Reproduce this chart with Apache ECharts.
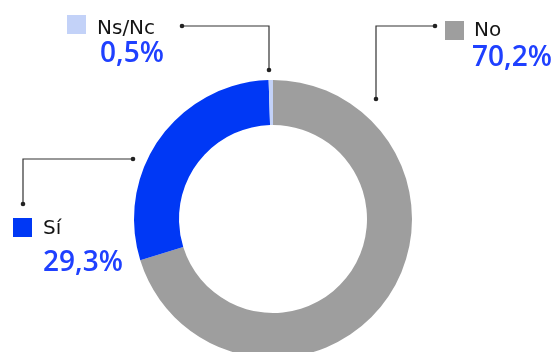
<!DOCTYPE html>
<html>
<head>
<meta charset="utf-8">
<script src="https://cdn.jsdelivr.net/npm/echarts@6/dist/echarts.min.js"></script>
<style>
  html, body { margin: 0; padding: 0; background: #ffffff; }
  #chart { width: 557px; height: 352px; }
</style>
</head>
<body>
<div id="chart"></div>
<script>
// Survey answers (percent of respondents), clockwise from 12 o'clock
const categories = ['No', 'Sí', 'Ns/Nc'];
const shares = [70.2, 29.3, 0.5];
const sliceColors = ['#9e9e9e', '#0038f5', '#c3d2f8'];

// Placement of each callout: legend square, name, percentage and elbow leader line
const callouts = {
  'No':    { sq: [445, 21], name: [474, 31], pct: [472, 58], line: [[376, 99], [376, 26], [435, 26]] },
  'Sí':    { sq: [13, 218], name: [43, 229], pct: [43, 263], line: [[133, 159], [23, 159], [23, 204]] },
  'Ns/Nc': { sq: [67, 15],  name: [97, 29],  pct: [100, 54], line: [[269, 70], [269, 26], [182, 26]] }
};

const fmt = v => v.toFixed(1).replace('.', ',') + '%';

const graphics = [];
categories.forEach((name, i) => {
  const c = callouts[name];
  graphics.push({
    type: 'polyline', silent: true,
    shape: { points: c.line },
    style: { stroke: '#333333', lineWidth: 1.2, fill: null }
  });
  [c.line[0], c.line[c.line.length - 1]].forEach(p => graphics.push({
    type: 'circle', silent: true,
    shape: { cx: p[0], cy: p[1], r: 2.3 },
    style: { fill: '#222222' }
  }));
  graphics.push({
    type: 'rect', silent: true,
    shape: { x: c.sq[0], y: c.sq[1], width: 19, height: 19 },
    style: { fill: sliceColors[i] }
  });
  graphics.push({
    type: 'text', silent: true,
    x: c.name[0], y: c.name[1],
    style: {
      text: name, fill: '#141414',
      font: '20px "DejaVu Sans"',
      align: 'left', verticalAlign: 'middle'
    }
  });
  graphics.push({
    type: 'text', silent: true,
    x: c.pct[0], y: c.pct[1],
    style: {
      text: fmt(shares[i]), fill: '#1f40ff',
      font: '600 28px "Open Sans"',
      align: 'left', verticalAlign: 'middle'
    }
  });
});

const chart = echarts.init(document.getElementById('chart'), null, { renderer: 'canvas' });
chart.setOption({
  animation: false,
  backgroundColor: '#ffffff',
  series: [{
    type: 'pie',
    center: [273, 219],
    radius: [94, 139],
    startAngle: 90,
    clockwise: true,
    silent: true,
    label: { show: false },
    labelLine: { show: false },
    itemStyle: { borderWidth: 0 },
    data: categories.map((n, i) => ({
      name: n, value: shares[i], itemStyle: { color: sliceColors[i] }
    }))
  }],
  graphic: graphics
});
</script>
</body>
</html>
